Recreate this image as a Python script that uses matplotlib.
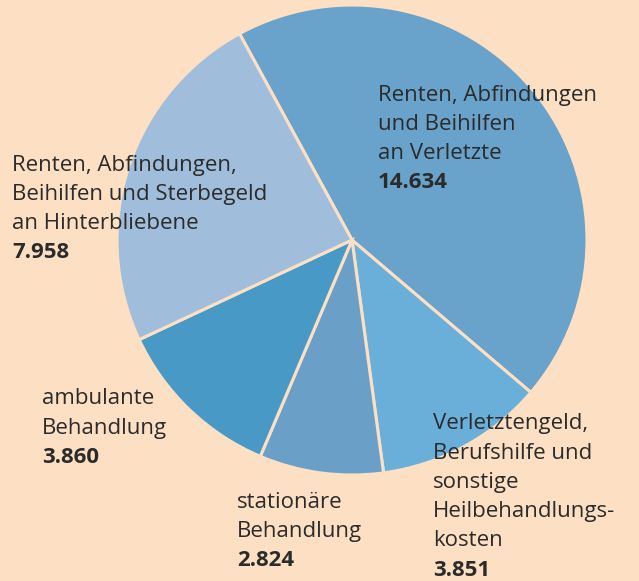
import matplotlib
matplotlib.use("Agg")
import matplotlib.pyplot as plt

# Data
categories = [
    "Renten, Abfindungen\nund Beihilfen\nan Verletzte",
    "Verletztengeld,\nBerufshilfe und\nsonstige\nHeilbehandlungs-\nkosten",
    "stationäre\nBehandlung",
    "ambulante\nBehandlung",
    "Renten, Abfindungen,\nBeihilfen und Sterbegeld\nan Hinterbliebene",
]
values = [14634, 3851, 2824, 3860, 7958]
value_labels = ["14.634", "3.851", "2.824", "3.860", "7.958"]
colors = ["#69a2ca", "#6aafd9", "#6a9fc8", "#4899c6", "#a0bddc"]

BG = "#fde0c4"
TXT = "#2b2b2b"
W, H = 639, 581

fig = plt.figure(figsize=(W / 100, H / 100), dpi=100, facecolor=BG)
ax = fig.add_axes([0, 0, 1, 1])
ax.set_facecolor(BG)
ax.set_xlim(0, W)
ax.set_ylim(0, H)
ax.set_aspect("equal")
ax.axis("off")

ax.pie(values, colors=colors, startangle=118.6, counterclock=False,
       center=(352, H - 240), radius=235,
       wedgeprops=dict(edgecolor=BG, linewidth=2.2))
ax.set_xlim(0, W)
ax.set_ylim(0, H)

# label anchors (left x, top y of first line in pixel coords from top)
anchors = [(378, 82), (433, 411), (237, 489), (42, 386), (12, 152)]
fs = 16
lh = 29.2
for cat, val, (x, y) in zip(categories, value_labels, anchors):
    lines = cat.split("\n")
    for i, ln in enumerate(lines):
        ax.text(x, H - (y + 13 + i * lh), ln, fontsize=fs, family="Open Sans",
                color=TXT, ha="left", va="center")
    ax.text(x, H - (y + 13 + len(lines) * lh), val, fontsize=fs, family="Open Sans",
            fontweight="bold", color=TXT, ha="left", va="center")

fig.savefig("out.png", dpi=100, facecolor=BG)
